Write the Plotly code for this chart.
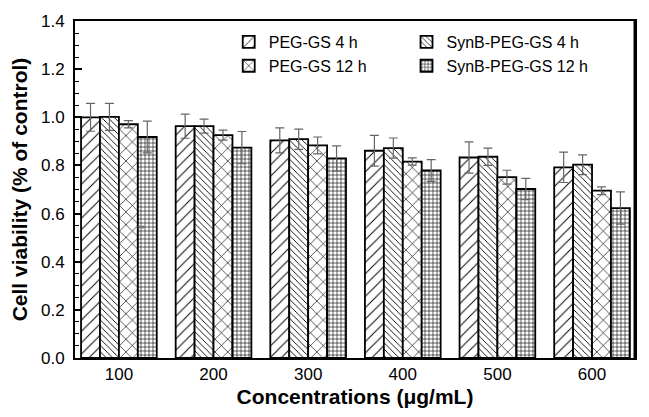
import plotly.graph_objects as go

concentrations = ["100", "200", "300", "400", "500", "600"]
series_names = ["PEG-GS 4 h", "SynB-PEG-GS 4 h", "PEG-GS 12 h", "SynB-PEG-GS 12 h"]

peg_4h = [1.000, 0.963, 0.904, 0.861, 0.833, 0.792]
synb_4h = [1.002, 0.963, 0.909, 0.872, 0.836, 0.803]
peg_12h = [0.971, 0.926, 0.883, 0.816, 0.751, 0.695]
synb_12h = [0.918, 0.874, 0.829, 0.779, 0.702, 0.623]

peg_4h_err = [0.058, 0.050, 0.052, 0.064, 0.065, 0.063]
synb_4h_err = [0.056, 0.029, 0.042, 0.042, 0.036, 0.041]
peg_12h_err = [0.015, 0.021, 0.035, 0.015, 0.029, 0.016]
synb_12h_err = [0.066, 0.067, 0.052, 0.045, 0.044, 0.067]

values = [peg_4h, synb_4h, peg_12h, synb_12h]
errors = [peg_4h_err, synb_4h_err, peg_12h_err, synb_12h_err]
patterns = [("/", 8, 0.12), ("\\", 4.5, 0.2), ("x", 9, 0.14), ("+", 4, 0.28)]
legend_ids = ["legend", "legend2", "legend", "legend2"]

font = "Liberation Sans, Arial, sans-serif"

fig = go.Figure()
for name, vals, errs, (shape, size, sol), lg in zip(series_names, values, errors, patterns, legend_ids):
    fig.add_trace(go.Bar(
        x=concentrations, y=vals, name=name, legend=lg,
        marker=dict(color="white",
                    line=dict(color="black", width=1.8),
                    pattern=dict(shape=shape, size=size, solidity=sol,
                                 fgcolor="black", bgcolor="white", fgopacity=1)),
        error_y=dict(type="data", array=errs, visible=True,
                     color="#666666", thickness=1.2, width=4.5),
    ))

fig.add_annotation(x=0.23, xref="x", y=0.534, yref="y", text="**",
                   showarrow=False, font=dict(family=font, size=10, color="#666666"))

# thicker right frame edge, as in the reference
fig.add_shape(type="line", xref="paper", yref="paper", x0=1, x1=1, y0=0, y1=1,
              line=dict(color="black", width=3))

legend_style = dict(orientation="v", yanchor="top", xanchor="left",
                    font=dict(family=font, size=16), bgcolor="rgba(0,0,0,0)",
                    tracegroupgap=0, traceorder="normal")

fig.update_layout(
    width=649, height=417,
    margin=dict(l=75, r=13, t=16, b=59),
    paper_bgcolor="white", plot_bgcolor="white",
    barmode="group", bargap=0.2, bargroupgap=0,
    font=dict(family=font, size=16, color="black"),
    legend=dict(x=0.2745, y=0.988, **legend_style),
    legend2=dict(x=0.592, y=0.988, **legend_style),
    xaxis=dict(
        type="category", range=[-0.464, 5.454],
        showline=True, linecolor="black", linewidth=2, mirror=True,
        ticks="", showgrid=False,
        tickfont=dict(family=font, size=17),
        title=dict(text="<b>Concentrations (μg/mL)</b>", standoff=6,
                   font=dict(family=font, size=21)),
    ),
    yaxis=dict(
        range=[0, 1.4], dtick=0.2, tickformat=".1f",
        showline=True, linecolor="black", linewidth=2, mirror=True,
        ticks="inside", ticklen=7, tickwidth=1.5, tickcolor="black",
        ticklabelstandoff=5,
        minor=dict(dtick=0.05, ticks="inside", ticklen=4, tickwidth=1.2, tickcolor="black"),
        showgrid=False, zeroline=False,
        tickfont=dict(family=font, size=17),
        title=dict(text="<b>Cell viability (% of control)</b>", standoff=8,
                   font=dict(family=font, size=21)),
    ),
)

fig.write_html("out.html", config={"displayModeBar": False},
               post_script="document.body.style.margin='0';")
